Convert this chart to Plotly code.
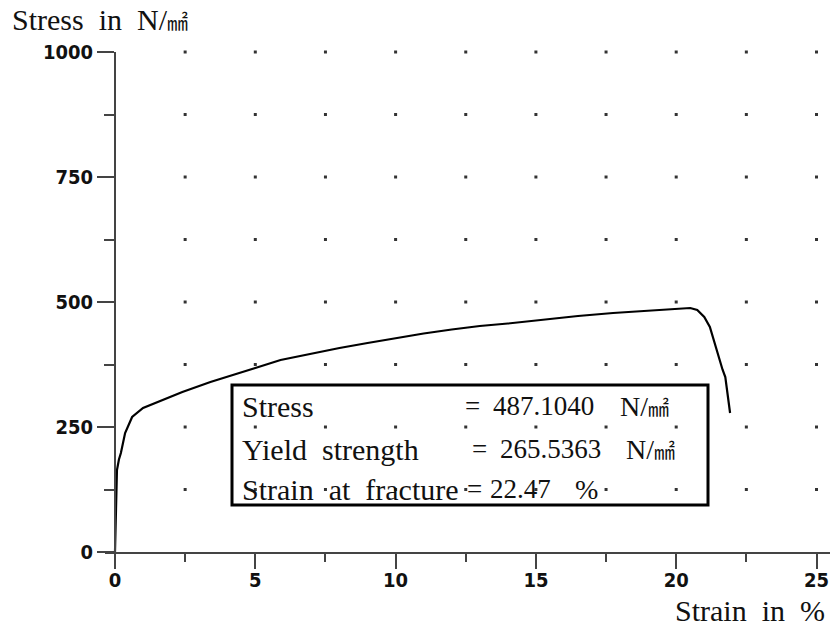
import plotly.graph_objects as go

# ---- data ----
strain = [0, 0.02, 0.04, 0.07, 0.14, 0.21, 0.36, 0.61, 1.0, 1.5, 2.4, 3.4, 4.0, 5.0, 5.9,
          7.0, 8.0, 9.0, 9.8, 11.0, 12.0, 13.0, 14.0, 15.0, 15.75, 16.5, 17.75, 18.5,
          19.5, 20.2, 20.5, 20.75, 21.0, 21.2, 21.35, 21.5, 21.65, 21.75, 21.85, 21.92]
stress = [0, 60, 124, 164, 185, 198, 238, 270, 288, 300, 320, 340, 351, 368, 384,
          397, 408, 418, 426, 437, 445, 452, 457, 463, 468, 472, 478, 481,
          484, 487, 488, 484, 470, 450, 420, 390, 365, 350, 310, 278]

x_ticks = [0, 5, 10, 15, 20, 25]
x_tick_labels = ["0", "5", "10", "15", "20", "25"]
x_minor = [2.5, 7.5, 12.5, 17.5, 22.5]
y_ticks = [0, 250, 500, 750, 1000]
y_tick_labels = ["0", "250", "500", "750", "1000"]
y_minor = [125, 375, 625, 875]
grid_x = [2.5, 5, 7.5, 10, 12.5, 15, 17.5, 20, 22.5, 25]
grid_y = [125, 250, 375, 500, 625, 750, 875, 1000]

UNIT = "N/<span style='font-size:21px'>㎟</span>"
result_labels = ["Stress", "Yield\u00a0\u00a0strength", "Strain\u00a0\u00a0at\u00a0\u00a0fracture"]
result_values = ["487.1040", "265.5363", "22.47"]
result_units = [UNIT, UNIT, "%"]

# ---- layout geometry (page pixels) ----
W, H = 830, 628
L, R, T, B = 105, 830, 52, 552
X0PX = 115.0
PXU = 28.06
xmin = (L - X0PX) / PXU
xmax = (R - X0PX) / PXU
PW, PH = R - L, B - T


def px(x):
    return (x - L) / PW


def py(y):
    return (B - y) / PH


gx, gy = [], []
for yy in grid_y:
    for xx in grid_x:
        gx.append(xx)
        gy.append(yy)

fig = go.Figure()
fig.add_trace(go.Scatter(x=gx, y=gy, mode="markers",
                         marker=dict(size=3, color="#333", symbol="square"),
                         hoverinfo="skip", showlegend=False, cliponaxis=False))
fig.add_trace(go.Scatter(x=strain, y=stress, mode="lines",
                         line=dict(color="black", width=2.2),
                         showlegend=False))

tickfont = dict(family="DejaVu Sans Condensed, DejaVu Sans", size=20, color="#111", weight="bold")
serif = "Liberation Serif, Noto Sans CJK KR"

fig.update_layout(
    template="none",
    width=W, height=H,
    margin=dict(l=L, r=W - R, t=T, b=H - B, pad=0),
    paper_bgcolor="white", plot_bgcolor="white",
    xaxis=dict(range=[xmin, xmax], showgrid=False, zeroline=False, automargin=False,
               showline=True, linecolor="#444", linewidth=2,
               ticks="outside", ticklen=15, tickwidth=2, tickcolor="#444",
               ticklabelstandoff=-6,
               tickvals=x_ticks, ticktext=x_tick_labels, tickfont=tickfont,
               minor=dict(tickvals=x_minor, ticks="outside", ticklen=8, tickwidth=2, tickcolor="#444")),
    yaxis=dict(range=[0, 1000], showgrid=False, zeroline=False, automargin=False,
               anchor="free", position=(X0PX - L) / PW,
               showline=True, linecolor="#444", linewidth=2,
               ticks="outside", ticklen=17, tickwidth=2, tickcolor="#444",
               tickvals=y_ticks, ticktext=y_tick_labels, tickfont=tickfont,
               minor=dict(tickvals=y_minor, ticks="outside", ticklen=10, tickwidth=2, tickcolor="#444")),
)

# result box
fig.add_shape(type="rect", xref="paper", yref="paper",
              x0=px(232), x1=px(708), y0=py(505), y1=py(385),
              line=dict(color="black", width=3), fillcolor="rgba(0,0,0,0)")


def txt(s, x, y, size=30, xanchor="left"):
    fig.add_annotation(text=s, xref="paper", yref="paper", x=px(x), y=py(y),
                       xanchor=xanchor, yanchor="middle", showarrow=False,
                       font=dict(family=serif, size=size, color="#111"))


rows_y = [406, 449, 489]
eq_x = [463, 470, 465]
val_x = [491, 498, 488]
unit_x = [618, 624, 573]
for i in range(3):
    txt(result_labels[i], 240, rows_y[i])
    txt("=", eq_x[i], rows_y[i], size=27)
    txt(result_values[i], val_x[i], rows_y[i], size=27)
    txt(result_units[i], unit_x[i], rows_y[i], size=28)

txt("Stress\u00a0\u00a0in\u00a0\u00a0" + UNIT, 10, 20)
txt("Strain\u00a0\u00a0in\u00a0\u00a0%", 827, 610, xanchor="right")

fig.write_html(
    "out.html",
    config={"displayModeBar": False},
    post_script="document.body.style.margin='0';document.body.style.overflow='hidden';",
)
